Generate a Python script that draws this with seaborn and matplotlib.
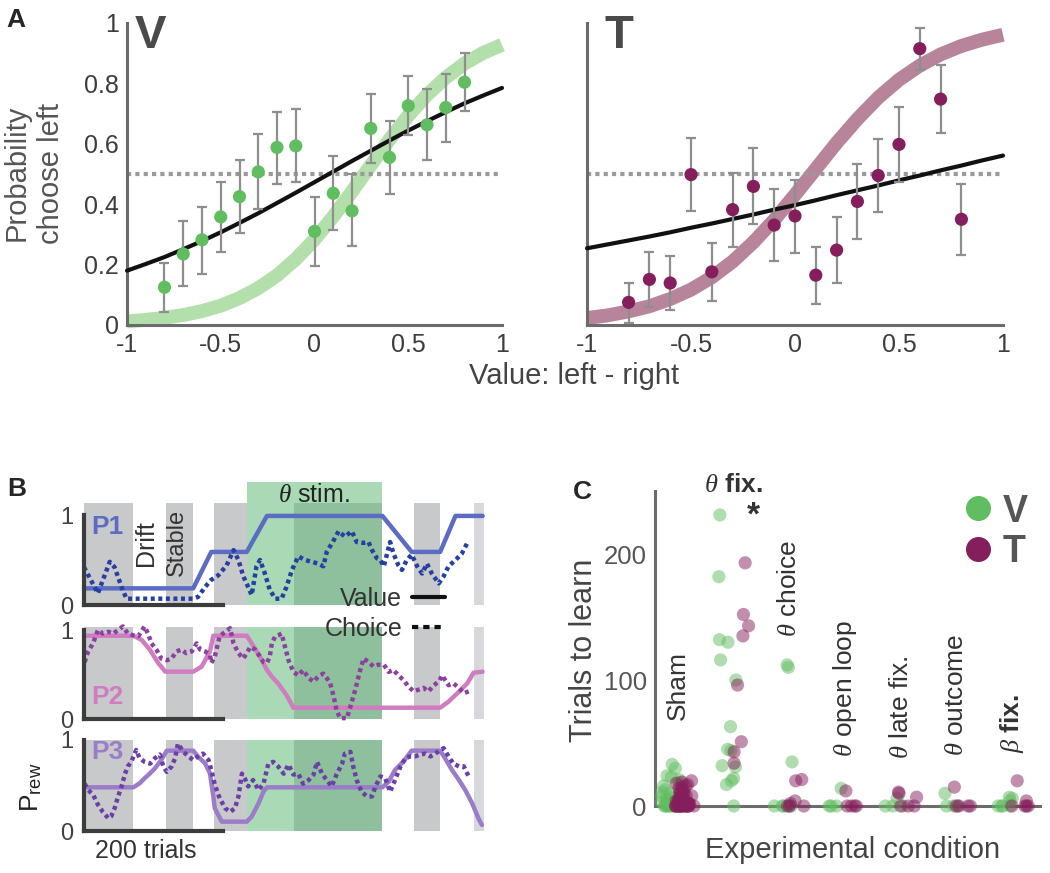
import numpy as np
import pandas as pd
import matplotlib
matplotlib.use("Agg")
import matplotlib.pyplot as plt
from matplotlib.lines import Line2D
import seaborn as sns

# panel A: binned choice probabilities
bin_x = [-0.8, -0.7, -0.6, -0.5, -0.4, -0.3, -0.2, -0.1, 0.0, 0.1, 0.2, 0.3, 0.4, 0.5, 0.6, 0.7, 0.8]
v_p = [0.125, 0.235, 0.282, 0.358, 0.425, 0.507, 0.588, 0.593, 0.310, 0.436, 0.378, 0.651, 0.555, 0.726, 0.663, 0.720, 0.804]
v_lo = [0.044, 0.130, 0.169, 0.243, 0.304, 0.383, 0.466, 0.472, 0.197, 0.315, 0.260, 0.535, 0.434, 0.628, 0.547, 0.607, 0.707]
v_hi = [0.204, 0.343, 0.392, 0.475, 0.545, 0.632, 0.706, 0.714, 0.423, 0.558, 0.499, 0.766, 0.675, 0.824, 0.781, 0.832, 0.900]
t_p = [0.075, 0.151, 0.139, 0.498, 0.176, 0.382, 0.459, 0.331, 0.361, 0.165, 0.248, 0.409, 0.495, 0.598, 0.915, 0.748, 0.350]
t_lo = [0.008, 0.061, 0.051, 0.376, 0.081, 0.259, 0.333, 0.213, 0.238, 0.070, 0.138, 0.286, 0.373, 0.472, 0.845, 0.635, 0.233]
t_hi = [0.140, 0.242, 0.228, 0.620, 0.270, 0.503, 0.585, 0.449, 0.481, 0.257, 0.356, 0.533, 0.617, 0.723, 0.985, 0.860, 0.466]

# fitted curves
fit_x = [-1.0, -0.9, -0.8, -0.7, -0.6, -0.5, -0.4, -0.3, -0.2, -0.1, 0.0,
         0.1, 0.2, 0.3, 0.4, 0.5, 0.6, 0.7, 0.8, 0.9, 1.0]
v_fit = [0.180, 0.202, 0.225, 0.251, 0.278, 0.307, 0.338, 0.370, 0.404, 0.438, 0.473,
         0.508, 0.543, 0.577, 0.611, 0.644, 0.675, 0.705, 0.734, 0.760, 0.785]
v_model = [0.012, 0.017, 0.024, 0.033, 0.046, 0.064, 0.089, 0.122, 0.164, 0.218, 0.283,
           0.359, 0.442, 0.529, 0.614, 0.693, 0.762, 0.819, 0.866, 0.901, 0.928]
t_fit = [0.254, 0.267, 0.280, 0.293, 0.307, 0.322, 0.336, 0.351, 0.366, 0.382, 0.397,
         0.413, 0.430, 0.446, 0.462, 0.479, 0.495, 0.512, 0.528, 0.545, 0.561]
t_model = [0.023, 0.032, 0.045, 0.062, 0.086, 0.117, 0.158, 0.210, 0.274, 0.348, 0.431,
           0.517, 0.603, 0.682, 0.753, 0.812, 0.859, 0.896, 0.924, 0.945, 0.961]

a_xticks = [-1, -0.5, 0, 0.5, 1]
a_xlabels = ['-1', '-0.5', '0', '0.5', '1']
a_yticks = [0, 0.2, 0.4, 0.6, 0.8, 1]
a_ylabels = ['0', '0.2', '0.4', '0.6', '0.8', '1']

# panel B: reward probability traces (x in trials)
p1_val_t = [0, 157, 183, 234, 263, 429, 471, 512, 534, 573]
p1_val = [0.185, 0.185, 0.59, 0.59, 0.99, 0.99, 0.59, 0.59, 0.99, 0.99]
p1_choice_t = [0, 20, 37, 44, 54, 61, 157, 164, 174, 183, 193, 205, 215, 222, 229, 236,
               241, 248, 253, 260, 267, 275, 284, 291, 299, 308, 318, 327, 337, 344, 349,
               359, 366, 375, 385, 392, 402, 409, 414, 421, 426, 431, 440, 445, 452, 457,
               464, 471, 479, 486, 493, 500, 510, 517, 524, 534, 543, 551]
p1_choice = [0.42, 0.13, 0.48, 0.42, 0.20, 0.07, 0.07, 0.09, 0.20, 0.28, 0.33, 0.44, 0.61, 0.50, 0.32, 0.20,
             0.11, 0.43, 0.50, 0.35, 0.17, 0.07, 0.07, 0.20, 0.39, 0.54, 0.50, 0.48, 0.46, 0.43, 0.59,
             0.72, 0.82, 0.76, 0.82, 0.70, 0.69, 0.70, 0.61, 0.52, 0.50, 0.43, 0.70, 0.57, 0.44, 0.39,
             0.50, 0.56, 0.43, 0.35, 0.46, 0.35, 0.24, 0.32, 0.43, 0.50, 0.57, 0.69]

p2_val_t = [0, 71, 83, 95, 107, 117, 157, 169, 181, 186, 234, 241, 253, 263, 270, 279, 291, 301,
            512, 524, 539, 551, 560, 573]
p2_val = [0.936, 0.936, 0.888, 0.775, 0.625, 0.532, 0.532, 0.588, 0.757, 0.936, 0.936, 0.850, 0.700,
          0.551, 0.476, 0.400, 0.270, 0.127, 0.127, 0.195, 0.307, 0.401, 0.520, 0.532]
p2_choice_t = [1, 6, 13, 20, 27, 35, 42, 49, 56, 63, 71, 78, 87, 92, 97, 104, 111, 119, 126, 133,
               140, 147, 155, 162, 167, 174, 181, 183, 188, 195, 203, 210, 215, 222, 229, 234, 239, 246, 253, 258,
               263, 267, 270, 275, 279, 284, 289, 294, 301, 308, 315, 323, 330, 337, 344, 349, 354, 359, 363, 368,
               378, 383, 390, 397, 402, 409, 416, 423, 431, 438, 445, 452, 459, 467, 474, 481, 488, 495, 503, 510,
               515, 519, 524, 531, 539, 546, 553]
p2_choice = [0.64, 0.76, 0.85, 1.00, 0.96, 0.98, 0.96, 1.00, 1.04, 0.96, 0.94, 0.93, 1.04, 0.96, 0.85, 0.78, 0.68, 0.66, 0.68, 0.76,
             0.78, 0.74, 0.76, 0.85, 0.78, 0.76, 0.72, 0.63, 0.70, 0.93, 0.98, 1.02, 0.85, 0.74, 0.68, 0.74, 0.81, 0.78, 0.70, 0.64,
             0.63, 0.70, 0.85, 0.93, 0.94, 0.96, 0.81, 0.66, 0.53, 0.49, 0.55, 0.46, 0.42, 0.48, 0.51, 0.46, 0.40, 0.25, 0.10, 0.01,
             0.01, 0.14, 0.33, 0.55, 0.68, 0.64, 0.59, 0.61, 0.61, 0.53, 0.55, 0.49, 0.44, 0.36, 0.31, 0.33, 0.35, 0.31, 0.38, 0.42,
             0.49, 0.44, 0.38, 0.40, 0.35, 0.29, 0.31]

p3_val_t = [0, 71, 80, 87, 95, 102, 111, 119, 157, 164, 174, 181, 186, 188, 198, 234, 241, 251, 258, 263,
            429, 438, 447, 459, 471, 512, 519, 529, 539, 548, 558, 567, 572]
p3_val = [0.48, 0.48, 0.524, 0.579, 0.634, 0.689, 0.78, 0.883, 0.883, 0.817, 0.744, 0.634, 0.378, 0.25, 0.103,
          0.103, 0.158, 0.305, 0.433, 0.48, 0.48, 0.542, 0.67, 0.762, 0.883, 0.883, 0.799, 0.67, 0.56, 0.451,
          0.304, 0.139, 0.066]
p3_choice_t = [1, 6, 13, 20, 27, 35, 39, 44, 49, 54, 59, 63, 68, 75, 80, 87, 95, 102, 109, 114,
               119, 126, 131, 135, 143, 150, 157, 164, 171, 179, 183, 188, 195, 203, 210, 217, 222, 227, 231, 236,
               243, 251, 258, 265, 272, 279, 287, 294, 301, 308, 315, 323, 330, 335, 342, 349, 356, 363, 371, 375,
               383, 387, 392, 399, 407, 414, 419, 426, 433, 440, 447, 455, 462, 469, 476, 483, 491, 498, 505, 512,
               517, 524, 531, 539, 546, 551, 555]
p3_choice = [0.52, 0.45, 0.40, 0.29, 0.21, 0.14, 0.16, 0.25, 0.38, 0.49, 0.63, 0.71, 0.76, 0.89, 0.80, 0.76, 0.74, 0.80, 0.84, 0.71,
             0.65, 0.71, 0.80, 0.96, 0.87, 0.82, 0.78, 0.82, 0.85, 0.78, 0.67, 0.51, 0.36, 0.25, 0.21, 0.25, 0.38, 0.63, 0.58, 0.49,
             0.56, 0.45, 0.52, 0.74, 0.76, 0.71, 0.63, 0.73, 0.62, 0.63, 0.52, 0.56, 0.62, 0.76, 0.63, 0.56, 0.49, 0.62, 0.74, 0.85,
             0.87, 0.71, 0.56, 0.43, 0.38, 0.38, 0.49, 0.60, 0.58, 0.43, 0.56, 0.71, 0.80, 0.82, 0.82, 0.84, 0.85, 0.82, 0.85, 0.89,
             0.91, 0.82, 0.74, 0.71, 0.71, 0.63, 0.58]

gray_blocks = [(0, 70), (118, 156), (187, 234), (474, 512)]
last_block = (561, 575)
stim_block = (234, 429)
stim_late = (302, 429)

# panel C: trials to learn
cond_names = ['Sham', r'$\theta$ $\mathbf{fix.}$', r'$\theta$ choice', r'$\theta$ open loop',
              r'$\theta$ late fix.', r'$\theta$ outcome', r'$\beta$ $\mathbf{fix.}$']
sham_v = [33, 30, 24, 23, 21, 19, 16, 13, 11, 10, 8, 7, 6, 5, 4, 3, 3, 2, 2, 1, 1,
          0, 0, 0, 0, 0, 0, 0, 0, 0, 0, 0, 0]
sham_t = [20, 19, 18, 17, 16, 15, 14, 13, 12, 11, 10, 9, 8, 8, 7, 6, 6, 5, 5, 4, 4, 3, 3, 2, 2, 2, 1, 1, 1,
          0, 0, 0, 0, 0, 0, 0, 0, 0, 0, 0, 0, 0, 0, 0, 0]
fix_v = [231, 182, 132, 130, 116, 100, 63, 45, 44, 32, 31, 22, 20, 17, 0]
fix_t = [193, 152, 143, 135, 96, 51, 43, 34]
choice_v = [112, 110, 35, 0, 0, 0, 0, 0]
choice_t = [21, 20, 4, 2, 0, 0, 0]
open_v = [14, 0, 0, 0]
open_t = [12, 0, 0, 0, 0]
late_v = [6, 0, 0, 0]
late_t = [11, 10, 7, 0, 0, 0]
outcome_v = [10, 0, 0, 0]
outcome_t = [15, 0, 0, 0, 0]
beta_v = [7, 6, 4, 0, 0, 0, 0]
beta_t = [20, 4, 0, 0, 0, 0]

v_trials = [sham_v, fix_v, choice_v, open_v, late_v, outcome_v, beta_v]
t_trials = [sham_t, fix_t, choice_t, open_t, late_t, outcome_t, beta_t]

green = '#60bd60'
green_lt = '#b3dfaa'
purple = '#851e5c'
purple_lt = '#b8849c'
spine_c = '#6b6b6b'

sns.set_theme(style="white")
plt.rcParams['font.family'] = ['Liberation Sans', 'DejaVu Sans']
plt.rcParams['mathtext.fontset'] = 'custom'
plt.rcParams['mathtext.rm'] = 'Liberation Sans'
plt.rcParams['mathtext.it'] = 'Liberation Serif:italic'
plt.rcParams['mathtext.bf'] = 'Liberation Sans:bold'

W, H = 1050, 873
fig = plt.figure(figsize=(W / 100, H / 100), dpi=100)


def box(l, t, r, b):
    return [l / W, 1 - b / H, (r - l) / W, (b - t) / H]


def psych(ax, p, lo, hi, fit, model, dot_col, band_col):
    sns.lineplot(x=fit_x, y=model, color=band_col, lw=10, ax=ax, estimator=None, sort=False,
                 clip_on=False, zorder=1, solid_capstyle='butt')
    ax.axhline(0.5, color='#9a9a9a', lw=3, ls=(0, (1, 1)), zorder=2)
    sns.lineplot(x=fit_x, y=fit, color='#111111', lw=3, ax=ax, estimator=None, sort=False,
                 clip_on=False, zorder=3)
    yerr = [np.subtract(p, lo), np.subtract(hi, p)]
    ax.errorbar(bin_x, p, yerr=yerr, fmt='none', ecolor='#8e8e8e', elinewidth=1.6,
                capsize=3.5, capthick=1.6, zorder=4)
    sns.scatterplot(x=bin_x, y=p, color=dot_col, s=90, edgecolor='none', ax=ax, zorder=5, clip_on=False)
    ax.set_xlim(-1, 1)
    ax.set_ylim(0, 1)
    ax.set_xticks(a_xticks)
    ax.set_xticklabels(a_xlabels)
    ax.set_yticks(a_yticks)
    sns.despine(ax=ax)
    for s in ['left', 'bottom']:
        ax.spines[s].set_color(spine_c)
        ax.spines[s].set_linewidth(2.2)
    ax.tick_params(direction='in', length=6, width=2.2, color=spine_c, labelsize=18,
                   labelcolor='#3d3d3d', pad=6)


axV = fig.add_axes(box(127, 23, 502, 325))
psych(axV, v_p, v_lo, v_hi, v_fit, v_model, green, green_lt)
axV.set_yticklabels(a_ylabels)
axV.set_ylabel('Probability\nchoose left', fontsize=21, color='#555555', linespacing=1.3)
axV.yaxis.set_label_coords(-0.165, 0.503)
axV.text(0.02, 1.03, 'V', transform=axV.transAxes, fontsize=34, fontweight='bold',
         color='#4a4a4a', va='top', ha='left')

axT = fig.add_axes(box(587, 23, 1003, 325))
psych(axT, t_p, t_lo, t_hi, t_fit, t_model, purple, purple_lt)
axT.set_yticklabels([])
axT.text(0.043, 1.03, 'T', transform=axT.transAxes, fontsize=34, fontweight='bold',
         color='#4a4a4a', va='top', ha='left')

fig.text(574 / W, 1 - 376 / H, 'Value: left - right', fontsize=21, color='#444444',
         ha='center', va='center')

# panel B
b_rows = [
    (box(84, 482, 484, 605), 1.367, 1.133, p1_val_t, p1_val, p1_choice_t, p1_choice, '#5b6cc2', '#2540a0', 'P1', 0.87),
    (box(84, 627, 484, 719), 1.034, 1.034, p2_val_t, p2_val, p2_choice_t, p2_choice, '#d07cc0', '#8c409f', 'P2', 0.25),
    (box(84, 740, 484, 831), 1.0, 1.0, p3_val_t, p3_val, p3_choice_t, p3_choice, '#9b7cc9', '#6b3fa8', 'P3', 0.87),
]
b_axes = []
for rect, ytop, btop, vt, vv, ct, cv, vcol, ccol, name, name_y in b_rows:
    ax = fig.add_axes(rect)
    frac = btop / ytop
    for a, b in gray_blocks:
        ax.axvspan(a, b, ymax=frac, color='#c8c9cb', lw=0, zorder=0)
    ax.axvspan(*last_block, ymax=frac, color='#d6d8dc', lw=0, zorder=0)
    ax.axvspan(*stim_block, color='#a9dab5', lw=0, zorder=0)
    ax.axvspan(*stim_late, ymax=frac, color='#8fc09d', lw=0, zorder=0.5)
    sns.lineplot(x=vt, y=vv, color=vcol, lw=3.2, ax=ax, estimator=None, sort=False,
                 zorder=2, clip_on=False)
    sns.lineplot(x=ct, y=cv, color=ccol, lw=3.2, ls=(0, (0.9, 0.8)), ax=ax, estimator=None,
                 sort=False, zorder=3, clip_on=False)
    ax.set_xlim(0, 575)
    ax.set_ylim(0, ytop)
    ax.set_xticks([])
    ax.set_yticks([0, 1])
    ax.set_yticklabels(['0', '1'])
    ax.tick_params(axis='y', length=0, pad=8, labelsize=17, labelcolor='#404040')
    ax.set_xlabel('')
    ax.set_ylabel('')
    for s in ['top', 'right']:
        ax.spines[s].set_visible(False)
    ax.spines['left'].set_bounds(0, 1)
    ax.spines['bottom'].set_bounds(0, 200)
    for s in ['left', 'bottom']:
        ax.spines[s].set_color('#3c3c3c')
        ax.spines[s].set_linewidth(3)
        ax.spines[s].set_zorder(4)
    ax.text(10, name_y, name, fontsize=19, fontweight='bold', color=vcol, ha='left', va='center', zorder=5)
    b_axes.append(ax)

ax1, ax2, ax3 = b_axes
ax1.text(331, 1.22, r'$\theta$ stim.', ha='center', va='center', fontsize=18, color='#222222')
ax1.text(89, 0.69, 'Drift', rotation=90, ha='center', va='center', fontsize=18, color='#333333')
ax1.text(134, 0.69, 'Stable', rotation=90, ha='center', va='center', fontsize=17, color='#333333')
ax3.text(89, -0.22, '200 trials', ha='center', va='center', fontsize=18, color='#333333')
fig.text(31 / W, 1 - 787 / H, r'P$_{\mathrm{rew}}$', rotation=90, ha='center', va='center',
         fontsize=19, color='#222222')

leg_handles = [Line2D([], [], color='#111111', lw=3),
               Line2D([], [], color='#111111', lw=3, ls=(0, (1.5, 1.2)))]
fig.legend(handles=leg_handles, labels=['Value', 'Choice'], markerfirst=False, frameon=False,
           loc='center right', bbox_to_anchor=(467 / W, 1 - 614 / H), fontsize=18,
           handlelength=1.3, handletextpad=0.4, labelspacing=0.25, labelcolor='#333333')

# panel C
rows = []
for i in range(len(cond_names)):
    for val in v_trials[i]:
        rows.append({'cond': i, 'group': 'V', 'trials': val})
    for val in t_trials[i]:
        rows.append({'cond': i, 'group': 'T', 'trials': val})
df = pd.DataFrame(rows)
shift = {'V': -0.12, 'T': 0.12}
df['pos'] = df['cond'] + df['group'].map(shift)

axC = fig.add_axes(box(655, 491, 1040, 806))
np.random.seed(3)
sns.stripplot(data=df, x='pos', y='trials', hue='group', hue_order=['V', 'T'],
              palette={'V': green, 'T': purple}, native_scale=True, orient='x', jitter=0.75,
              size=9.5, alpha=0.5, linewidth=0, legend=False, ax=axC, clip_on=False, zorder=3)
axC.set_xlim(-0.41, 6.5)
axC.set_ylim(0, 250)
axC.set_xticks([])
axC.set_yticks([0, 100, 200])
axC.set_yticklabels(['0', '100', '200'])
sns.despine(ax=axC)
for s in ['left', 'bottom']:
    axC.spines[s].set_color(spine_c)
    axC.spines[s].set_linewidth(2.2)
axC.tick_params(direction='in', length=6, width=2.2, color=spine_c, labelsize=18.5,
                labelcolor='#555555', pad=6)
axC.set_ylabel('Trials to learn', fontsize=22, color='#444444')
axC.yaxis.set_label_coords(-0.145, 0.495)
axC.set_xlabel('Experimental condition', fontsize=21, color='#444444')
axC.xaxis.set_label_coords(0.514, -0.095)

label_y = [68, 255, 134, 39, 37, 40, 42]
for i, name in enumerate(cond_names):
    if i == 1:
        axC.text(i, label_y[i], name, ha='center', va='center', fontsize=19, color='#333333')
    else:
        axC.text(i, label_y[i], name, rotation=90, ha='center', va='bottom', fontsize=19, color='#333333')
axC.text(1.35, 230, '*', ha='center', va='center', fontsize=24, fontweight='bold', color='#333333')

c_handles = [Line2D([], [], marker='o', ls='', color=green, markersize=17),
             Line2D([], [], marker='o', ls='', color=purple, markersize=17)]
legC = axC.legend(handles=c_handles, labels=['V', 'T'], loc='upper left', frameon=False,
                  bbox_to_anchor=(952 / W, 1 - 486 / H), bbox_transform=fig.transFigure,
                  handletextpad=0.15, labelspacing=0.12, handlelength=1.0, borderpad=0.2,
                  borderaxespad=0, prop={'weight': 'bold', 'size': 27}, labelcolor='#555555')

fig.text(6 / W, 1 - 20 / H, 'A', fontsize=19, fontweight='bold', va='center', ha='left')
fig.text(7 / W, 1 - 489 / H, 'B', fontsize=19, fontweight='bold', va='center', ha='left')
fig.text(573 / W, 1 - 492 / H, 'C', fontsize=19, fontweight='bold', va='center', ha='left')

fig.savefig('out.png', dpi=100)
